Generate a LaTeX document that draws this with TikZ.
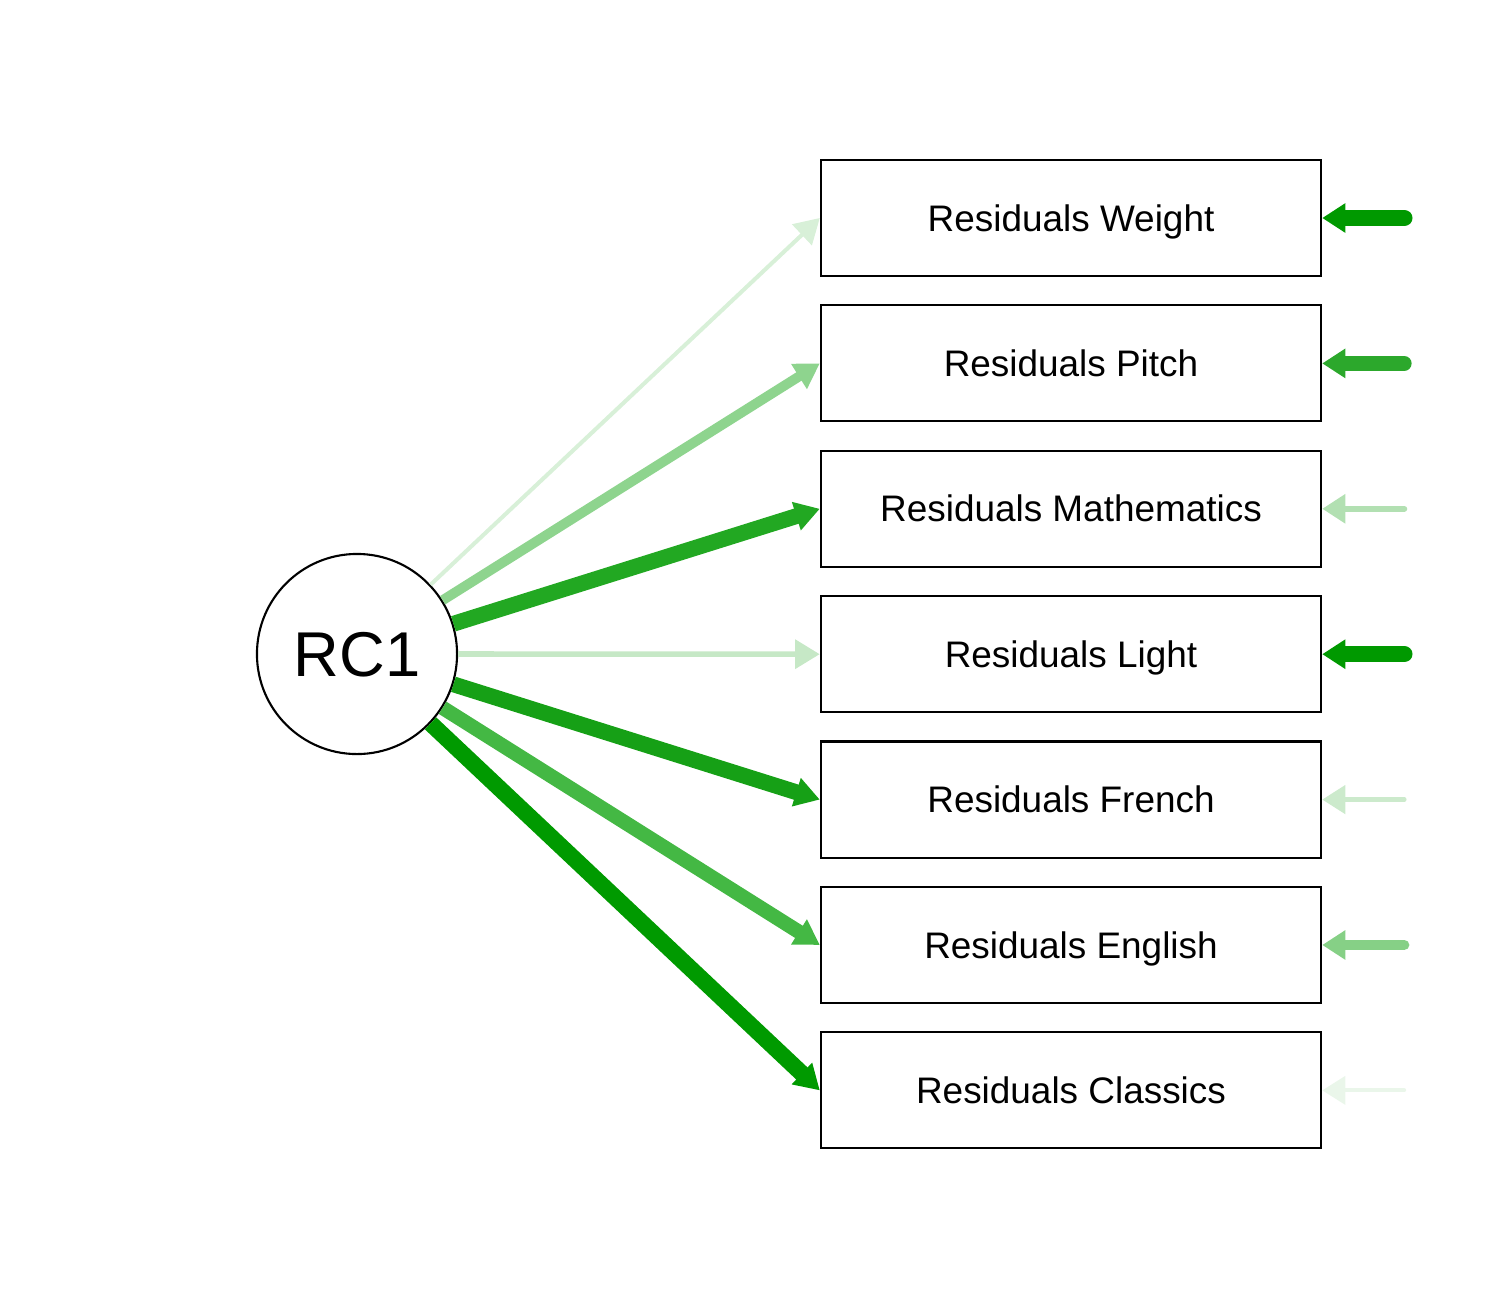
\documentclass[tikz,border=0pt]{standalone}
\usepackage{fontspec}
\setmainfont{Liberation Sans}
\usepackage{xcolor}
\usepackage{tikz}
\usetikzlibrary{positioning}
\usetikzlibrary{arrows.meta}

\definecolor{gWeight}{HTML}{D8F0D8}
\definecolor{gPitch}{HTML}{8ED48E}
\definecolor{gMath}{HTML}{22A822}
\definecolor{gLight}{HTML}{C6E8C6}
\definecolor{gFrench}{HTML}{16A016}
\definecolor{gEnglish}{HTML}{44B844}
\definecolor{gClassics}{HTML}{009A00}
\definecolor{rWeight}{HTML}{009900}
\definecolor{rPitch}{HTML}{2CA82C}
\definecolor{rMath}{HTML}{B2E0B2}
\definecolor{rLight}{HTML}{009900}
\definecolor{rFrench}{HTML}{CCEACC}
\definecolor{rEnglish}{HTML}{86D086}
\definecolor{rClassics}{HTML}{EAF6EA}

\begin{document}
\begin{tikzpicture}[x=0.01cm,y=-0.01cm,
    resbox/.style={draw, line width=0.6pt, minimum width=5cm, minimum height=1.16cm,
      inner sep=0pt, text height=7.5pt, text depth=0pt,
      font=\fontsize{10.5}{12}\selectfont},
    load/.style={line width=#1, -{Triangle[length=7pt,width=8pt]}},
    resid/.style={line width=#1, line cap=round, -{Triangle[length=6.6pt,width=8pt]}}]
      \useasboundingbox (0,0) rectangle (1500,1309);

      % latent factor
      \node[circle, draw, line width=0.6pt, minimum size=2cm, inner sep=0pt,
      text height=13pt, text depth=0pt,
      font=\fontsize{18}{22}\selectfont] (rc) at (357,654) {RC1};

      % residual boxes
      \node[resbox] (wt) at (1071,218) {Residuals Weight};
      \node[resbox, below=0.272cm of wt] (pi) {Residuals Pitch};
      \node[resbox, below=0.272cm of pi] (ma) {Residuals Mathematics};
      \node[resbox, below=0.272cm of ma] (li) {Residuals Light};
      \node[resbox, below=0.272cm of li] (fr) {Residuals French};
      \node[resbox, below=0.272cm of fr] (en) {Residuals English};
      \node[resbox, below=0.272cm of en] (cl) {Residuals Classics};

      % loadings
      \draw[load=1.15pt, color=gWeight] (rc) -- (wt.west);
      \draw[load=2.8pt, color=gPitch] (rc) -- (pi.west);
      \draw[load=4.5pt, color=gMath] (rc) -- (ma.west);
      \draw[load=1.6pt, color=gLight] (rc) -- (li.west);
      \draw[load=4.5pt, color=gFrench] (rc) -- (fr.west);
      \draw[load=4.1pt, color=gEnglish] (rc) -- (en.west);
      \draw[load=4.7pt, color=gClassics] (rc) -- (cl.west);

      % error terms
      \coordinate[right=0.82cm of wt.east] (wtr);
      \coordinate[right=0.82cm of pi.east] (pir);
      \coordinate[right=0.82cm of ma.east] (mar);
      \coordinate[right=0.82cm of li.east] (lir);
      \coordinate[right=0.82cm of fr.east] (frr);
      \coordinate[right=0.82cm of en.east] (enr);
      \coordinate[right=0.82cm of cl.east] (clr);
      \draw[resid=4.7pt, color=rWeight] (wtr) -- (wt.east);
      \draw[resid=4.2pt, color=rPitch] (pir) -- (pi.east);
      \draw[resid=1.7pt, color=rMath] (mar) -- (ma.east);
      \draw[resid=4.7pt, color=rLight] (lir) -- (li.east);
      \draw[resid=1.3pt, color=rFrench] (frr) -- (fr.east);
      \draw[resid=2.9pt, color=rEnglish] (enr) -- (en.east);
      \draw[resid=1.1pt, color=rClassics] (clr) -- (cl.east);
\end{tikzpicture}
\end{document}
